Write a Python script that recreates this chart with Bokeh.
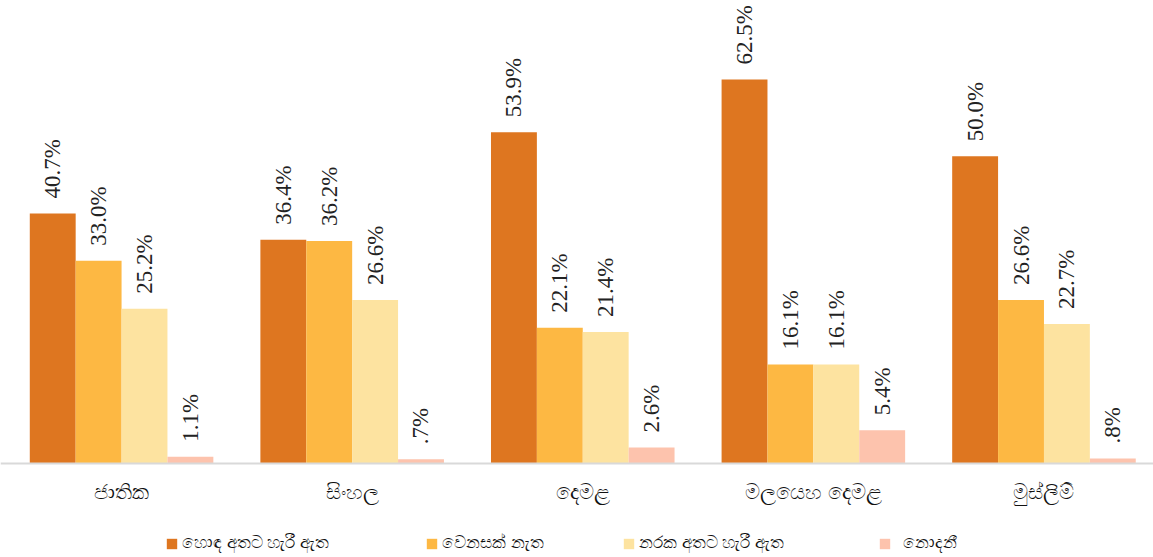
import math
from bokeh.plotting import figure
from bokeh.models import ColumnDataSource, Legend, LegendItem, Range1d, Span, LabelSet
from bokeh.transform import dodge
from bokeh.core.properties import value
from bokeh.embed import file_html
from bokeh.resources import INLINE

groups = ["ජාතික", "සිංහල", "දෙමළ", "මලයෙහ දෙමළ", "මුස්ලිම්"]
series = ["හොඳ අතට හැරී ඇත", "වෙනසක් නැත", "නරක අතට හැරී ඇත", "නොදනී"]
improved = [40.7, 36.4, 53.9, 62.5, 50.0]
no_change = [33.0, 36.2, 22.1, 16.1, 26.6]
worse = [25.2, 26.6, 21.4, 16.1, 22.7]
dont_know = [1.1, 0.7, 2.6, 5.4, 0.8]
labels_improved = ["40.7%", "36.4%", "53.9%", "62.5%", "50.0%"]
labels_no_change = ["33.0%", "36.2%", "22.1%", "16.1%", "26.6%"]
labels_worse = ["25.2%", "26.6%", "21.4%", "16.1%", "22.7%"]
labels_dont_know = ["1.1%", ".7%", "2.6%", "5.4%", ".8%"]
colors = ["#DE7620", "#FDB843", "#FDE3A0", "#FDC3AD"]

values_list = [improved, no_change, worse, dont_know]
labels_list = [labels_improved, labels_no_change, labels_worse, labels_dont_know]

W, H = 1153, 557
px_per_unit = 6.144
y_top = 463 / px_per_unit
y_bot = -(H - 463) / px_per_unit

p = figure(x_range=groups, y_range=Range1d(y_bot, y_top), width=W, height=H,
           output_backend="svg", toolbar_location=None,
           min_border_left=0, min_border_right=0, min_border_top=0, min_border_bottom=0)
p.outline_line_color = None
p.xgrid.visible = False
p.ygrid.visible = False
p.yaxis.visible = False
p.xaxis.visible = False
p.x_range.range_padding = 0

shift = 0.025
w = 0.199
offsets = [shift - 1.5 * w, shift - 0.5 * w, shift + 0.5 * w, shift + 1.5 * w]

p.add_layout(Span(location=0, dimension="width", line_color="#d9d9d9", line_width=2))

renderers = []
for i in range(4):
    src = ColumnDataSource(dict(g=groups, v=values_list[i], lab=labels_list[i]))
    r = p.vbar(x=dodge("g", offsets[i], range=p.x_range), top="v", width=w,
               source=src, fill_color=colors[i], line_color=None)
    ls = LabelSet(x=dodge("g", offsets[i], range=p.x_range), y="v", text="lab", source=src,
                  angle=math.pi / 2, text_align="left", text_baseline="middle",
                  x_offset=0, y_offset=15, text_font=value("Liberation Serif"),
                  text_font_size="23px", text_color="#222222")
    p.add_layout(ls)
    renderers.append(r)

# category labels
csrc = ColumnDataSource(dict(g=groups, y=[0] * len(groups)))
p.text(x=dodge("g", shift, range=p.x_range), y="y", text="g", source=csrc,
       text_align="center", text_baseline="middle", y_offset=28,
       text_font_size="21px", text_color="#111111")

leg_x = [165, 425, 622, 878]
standoffs = [4, 4, 4, 12]
for i in range(4):
    lg = Legend(items=[LegendItem(label=series[i], renderers=[renderers[i]])],
                location=(leg_x[i], 4), orientation="horizontal",
                label_text_font_size="17px", label_text_color="#111111",
                glyph_width=13, glyph_height=13, label_standoff=standoffs[i],
                label_height=20, border_line_color=None, background_fill_alpha=0,
                margin=0, padding=0)
    p.add_layout(lg, "center")

open("out.html", "w").write(file_html(p, INLINE))
